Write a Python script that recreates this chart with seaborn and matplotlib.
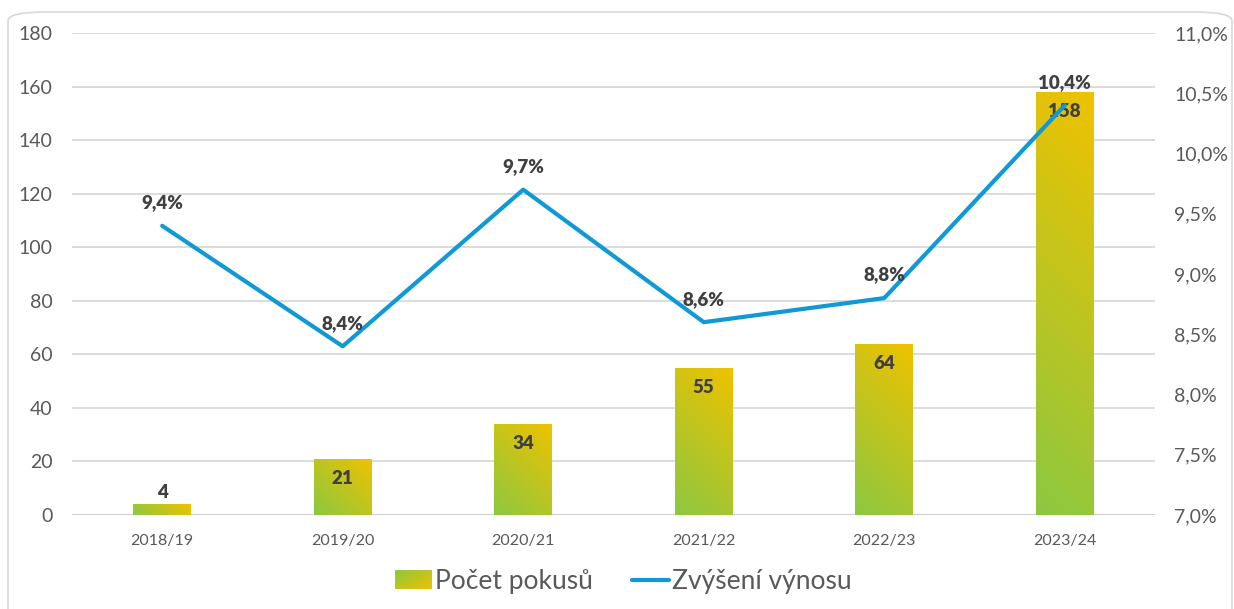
import matplotlib
matplotlib.use("Agg")
import matplotlib.pyplot as plt
import numpy as np
import pandas as pd
import seaborn as sns
from matplotlib.colors import LinearSegmentedColormap
from matplotlib.patches import FancyBboxPatch
from matplotlib.legend_handler import HandlerBase
from matplotlib.lines import Line2D
from matplotlib.patches import Patch
from matplotlib.image import BboxImage
from matplotlib.transforms import Bbox, TransformedBbox
from matplotlib.ticker import FuncFormatter, MultipleLocator

# data
roky = ["2018/19", "2019/20", "2020/21", "2021/22", "2022/23", "2023/24"]
pokusy = [4, 21, 34, 55, 64, 158]
vynos = [9.4, 8.4, 9.7, 8.6, 8.8, 10.4]

df = pd.DataFrame({"rok": roky, "pokusy": pokusy, "vynos": vynos})

green = "#8cc841"
yellow = "#efc200"
modra = "#0f9ad6"
seda = "#595959"
tmava = "#404040"
cmap = LinearSegmentedColormap.from_list("gy", [green, yellow])

sns.set_theme(style="white")
plt.rcParams["font.family"] = ["Lato", "DejaVu Sans"]

fig = plt.figure(figsize=(12.34, 6.09), dpi=100)
ax = fig.add_axes([0.0583, 0.1544, 0.8777, 0.7914])

# ramecek okolo grafu
fig.patches.append(FancyBboxPatch((8 / 1234, -0.2), 1224 / 1234, 1 - 12 / 609 + 0.2,
                                  boxstyle="round,pad=0,rounding_size=0.03",
                                  transform=fig.transFigure, fc="none", ec="#d9d9d9", lw=1.2,
                                  mutation_aspect=609 / 1234))

sns.barplot(data=df, x="rok", y="pokusy", color=green, width=0.32, ax=ax, zorder=2)

ax.set_xlim(-0.5, 5.5)
ax.set_ylim(0, 180)

# gradient do sloupcu (45 stupnu v pixelech)
u, v = np.meshgrid(np.linspace(0, 1, 100), np.linspace(0, 1, 100))
px_x = 1083 / 6.0
px_y = 482 / 180.0
for bar in ax.patches:
    x0, y0 = bar.get_x(), bar.get_y()
    w, h = bar.get_width(), bar.get_height()
    wp, hp = w * px_x, h * px_y
    g = (u * wp + v * hp) / (wp + hp)
    im = ax.imshow(g, cmap=cmap, origin="lower", extent=[x0, x0 + w, y0, y0 + h],
                   aspect="auto", zorder=2, interpolation="bilinear", vmin=0, vmax=1)
    im.set_clip_path(bar)
    bar.set_alpha(0)

ax.set_xlim(-0.5, 5.5)
ax.set_ylim(0, 180)
ax.yaxis.set_major_locator(MultipleLocator(20))
ax.grid(axis="y", color="#d9d9d9", lw=1.3, zorder=0)
ax.set_axisbelow(True)
for s in ax.spines.values():
    s.set_visible(False)
ax.axhline(0, color="#d0d0d0", lw=1.5, zorder=1)
ax.set_xlabel("")
ax.set_ylabel("")
ax.tick_params(axis="y", labelsize=14, colors=seda, length=0, pad=14)
ax.tick_params(axis="x", labelsize=11.5, colors=seda, length=0, pad=14)

# popisky sloupcu
for i, val in enumerate(pokusy):
    if val >= 15:
        ax.annotate(str(val), (i, val), xytext=(0, -20), textcoords="offset pixels",
                    ha="center", va="center", fontsize=13.5, fontweight="heavy", color=tmava, zorder=5)
    else:
        ax.annotate(str(val), (i, val), xytext=(0, 12), textcoords="offset pixels",
                    ha="center", va="center", fontsize=13.5, fontweight="heavy", color=tmava, zorder=5)

# druha osa
ax2 = ax.twinx()
sns.lineplot(x=list(range(len(roky))), y=vynos, color=modra, lw=3, ax=ax2, zorder=3)
ax2.set_ylim(7, 11)
ax2.yaxis.set_major_locator(MultipleLocator(0.5))
ax2.yaxis.set_major_formatter(FuncFormatter(lambda v, p: f"{v:.1f}%".replace(".", ",")))
ax2.tick_params(axis="y", labelsize=14, colors=seda, length=0, pad=14)
for s in ax2.spines.values():
    s.set_visible(False)
ax2.grid(False)
ax2.set_xlim(-0.5, 5.5)

for i, val in enumerate(vynos):
    ax2.annotate(f"{val:.1f}%".replace(".", ","), (i, val), xytext=(0, 23), textcoords="offset pixels",
                 ha="center", va="center", fontsize=13.5, fontweight="heavy", color=tmava, zorder=5)

leg_grad = (u + v) / 2


class GradHandler(HandlerBase):
    def legend_artist(self, legend, orig_handle, fontsize, handlebox):
        x0, y0 = handlebox.xdescent, handlebox.ydescent
        w, h = handlebox.width, handlebox.height
        bb = TransformedBbox(Bbox.from_bounds(-x0, -y0, w, h), handlebox.get_transform())
        img = BboxImage(bb, cmap=cmap, interpolation="bilinear")
        img.set_data(leg_grad)
        handlebox.add_artist(img)
        return img


handles = [Patch(color=green), Line2D([], [], color=modra, lw=3)]
leg = fig.legend(handles, ["Počet pokusů", "Zvýšení výnosu"], loc="center",
                 bbox_to_anchor=(0.505, 0.045), ncol=2, frameon=False, fontsize=19,
                 handlelength=1.4, handletextpad=0.12, columnspacing=1.5,
                 handler_map={Patch: GradHandler()})
for t in leg.get_texts():
    t.set_color(seda)

fig.savefig("out.png", dpi=100)
